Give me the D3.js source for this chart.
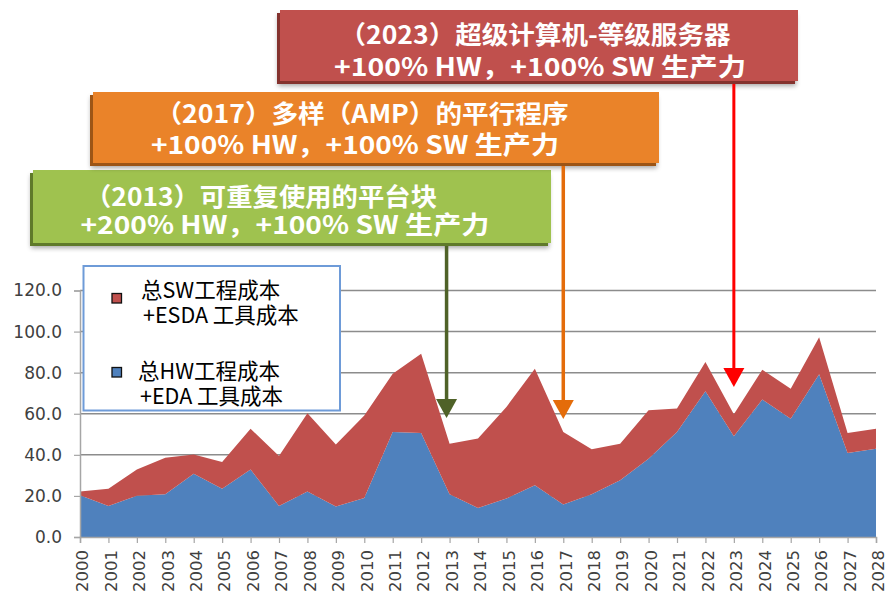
<!DOCTYPE html>
<html>
<head>
<meta charset="utf-8">
<script src="https://cdn.jsdelivr.net/npm/d3@7"></script>
<style>
  body { margin: 0; background: #fff; }
</style>
</head>
<body>
<script>
"use strict";

var years = [2000, 2001, 2002, 2003, 2004, 2005, 2006, 2007, 2008, 2009,
             2010, 2011, 2012, 2013, 2014, 2015, 2016, 2017, 2018, 2019,
             2020, 2021, 2022, 2023, 2024, 2025, 2026, 2027, 2028];

// total HW engineering + EDA tool cost
var hwCost = [20.3, 15.1, 20.1, 20.8, 30.8, 23.5, 32.8, 15.1, 22.2, 14.8,
              19.0, 51.1, 50.6, 20.8, 14.1, 18.7, 25.2, 15.8, 20.8, 27.6,
              38.1, 51.1, 71.0, 49.1, 66.9, 57.6, 79.2, 40.9, 43.0];

// total SW engineering + ESDA tool cost (stacked on top of HW)
var swCost = [1.9, 8.4, 12.7, 17.8, 9.4, 13.0, 19.9, 24.3, 38.1, 30.2,
              40.2, 28.4, 38.6, 24.6, 33.8, 44.6, 56.7, 35.3, 21.9, 17.8,
              23.6, 11.4, 14.2, 10.6, 14.5, 14.6, 18.1, 9.7, 9.7];

var yTicks = [0, 20, 40, 60, 80, 100, 120];

var seriesKeys = ["hw", "sw"];
var seriesColors = { hw: "#4f81bd", sw: "#c0504d" };
var legendLabels = [
  ["总SW工程成本", "+ESDA 工具成本"],
  ["总HW工程成本", "+EDA 工具成本"]
];
var legendKeys = ["sw", "hw"];

var calloutYears = [2013, 2017, 2023];
var calloutLines = [
  ["（2013）可重复使用的平台块", "+200% HW，+100% SW 生产力"],
  ["（2017）多样（AMP）的平行程序", "+100% HW，+100% SW 生产力"],
  ["（2023）超级计算机-等级服务器", "+100% HW，+100% SW 生产力"]
];
var calloutColors = ["#9fc24f", "#ea8329", "#c0504d"];
var calloutDark = ["#5f7a2c", "#9c5418", "#84302e"];
var arrowColors = ["#4f6228", "#e46c0a", "#ff0000"];

var width = 885, height = 592;
var plot = { left: 80, right: 876, top: 290.5, bottom: 537 };

// box layout: x, y, w, h, line centres (x) and line y's
var boxLayout = [
  { x: 33, y: 170, w: 518, h: 73, lx: [261, 285], ly: [195, 222.5], lw: [352, 409], tip: 418 },
  { x: 93, y: 92, w: 566, h: 71, lx: [362, 355], ly: [112, 142.5], lw: [413, 408], tip: 419 },
  { x: 280, y: 10, w: 518, h: 71, lx: [535, 540], ly: [32.5, 64.5], lw: [391, 412], tip: 387 }
];

var table = years.map(function (yr, i) {
  return { year: yr, hw: hwCost[i], sw: swCost[i] };
});

var x = d3.scaleLinear().domain([2000, 2028]).range([plot.left, plot.right]);
var y = d3.scaleLinear().domain([0, 120]).range([plot.bottom, plot.top]);

var svg = d3.select("body")
  .append("svg")
  .attr("width", width)
  .attr("height", height)
  .style("display", "block");

var defs = svg.append("defs");
var filt = defs.append("filter").attr("id", "boxShadow")
  .attr("x", "-5%").attr("y", "-15%").attr("width", "112%").attr("height", "135%");
filt.append("feGaussianBlur").attr("in", "SourceAlpha").attr("stdDeviation", 2.5).attr("result", "b");
filt.append("feOffset").attr("in", "b").attr("dx", 1).attr("dy", 2).attr("result", "o");
filt.append("feComponentTransfer").attr("in", "o").attr("result", "s")
  .append("feFuncA").attr("type", "linear").attr("slope", 0.35);
var fm = filt.append("feMerge");
fm.append("feMergeNode").attr("in", "s");
fm.append("feMergeNode").attr("in", "SourceGraphic");

// gridlines
svg.append("g")
  .attr("class", "grid")
  .selectAll("line")
  .data(yTicks.filter(function (d) { return d > 0; }))
  .enter()
  .append("line")
  .attr("x1", plot.left)
  .attr("x2", plot.right)
  .attr("y1", function (d) { return y(d); })
  .attr("y2", function (d) { return y(d); })
  .attr("stroke", "#8c8c8c")
  .attr("stroke-width", 1.5);

// stacked areas
var stacked = d3.stack().keys(seriesKeys)(table);

var area = d3.area()
  .x(function (d) { return x(d.data.year); })
  .y0(function (d) { return y(d[0]); })
  .y1(function (d) { return y(d[1]); });

svg.append("g")
  .attr("class", "areas")
  .selectAll("path")
  .data(stacked)
  .enter()
  .append("path")
  .attr("d", area)
  .attr("fill", function (d) { return seriesColors[d.key]; });

// axes
var yAxis = svg.append("g")
  .attr("transform", "translate(" + plot.left + ",0)")
  .call(d3.axisLeft(y).tickValues(yTicks).tickFormat(d3.format(".1f")).tickSize(6).tickPadding(12));

var xAxis = svg.append("g")
  .attr("transform", "translate(0," + plot.bottom + ")")
  .call(d3.axisBottom(x).tickValues(years).tickFormat(d3.format("d")).tickSize(6));

[yAxis, xAxis].forEach(function (ax) {
  ax.select(".domain").attr("stroke", "#a6a6a6").attr("stroke-width", 1.5);
  ax.selectAll(".tick line").attr("stroke", "#a6a6a6").attr("stroke-width", 1.2);
  ax.selectAll("text")
    .attr("fill", "#404040")
    .style("font-family", "'DejaVu Sans', sans-serif");
});

yAxis.selectAll("text").style("font-size", "17px");

xAxis.selectAll("text")
  .style("font-size", "16.5px")
  .attr("text-anchor", "end")
  .attr("transform", "translate(2,0) rotate(-90)")
  .attr("x", -13)
  .attr("y", 0)
  .attr("dy", "0.35em");

// legend
var legend = svg.append("g").attr("class", "legend");
legend.append("rect")
  .attr("x", 83.5).attr("y", 266).attr("width", 256.5).attr("height", 144.5)
  .attr("fill", "#fff")
  .attr("stroke", "#6e9bd8")
  .attr("stroke-width", 2);

var legendRows = [
  { sy: 293.5, tx: [141, 143], ty: [288, 313] },
  { sy: 367.5, tx: [138, 140], ty: [369, 394] }
];

legendKeys.forEach(function (k, i) {
  var row = legendRows[i];
  legend.append("rect")
    .attr("x", 112).attr("y", row.sy).attr("width", 9.5).attr("height", 9.5)
    .attr("fill", seriesColors[k])
    .attr("stroke", "#111")
    .attr("stroke-width", 1.3);
  legendLabels[i].forEach(function (t, j) {
    legend.append("text")
      .attr("x", row.tx[j])
      .attr("y", row.ty[j])
      .attr("dominant-baseline", "central")
      .style("font-family", "'Noto Sans CJK SC', sans-serif")
      .style("font-size", "21.5px")
      .attr("fill", "#000")
      .text(t);
  });
});

// callouts
var callouts = svg.append("g").attr("class", "callouts");

calloutYears.forEach(function (yr, i) {
  var b = boxLayout[i];
  var g = callouts.append("g");

  g.append("rect")
    .attr("x", b.x - 3).attr("y", b.y + 3).attr("width", b.w).attr("height", b.h)
    .attr("fill", calloutDark[i])
    .attr("filter", "url(#boxShadow)");
  g.append("rect")
    .attr("x", b.x).attr("y", b.y).attr("width", b.w).attr("height", b.h)
    .attr("fill", calloutColors[i]);

  calloutLines[i].forEach(function (t, j) {
    g.append("text")
      .attr("x", b.lx[j])
      .attr("y", b.ly[j])
      .attr("text-anchor", "middle")
      .attr("dominant-baseline", "central")
      .attr("textLength", b.lw[j])
      .attr("lengthAdjust", "spacingAndGlyphs")
      .style("font-family", "'Noto Sans CJK SC', sans-serif")
      .style("font-weight", "700")
      .style("font-size", "25px")
      .attr("fill", "#fff")
      .text(t);
  });

  // arrow
  var ax = x(yr) - (i === 0 ? 3 : 0);
  var headH = 19, headW = 21;
  g.append("line")
    .attr("x1", ax).attr("x2", ax)
    .attr("y1", b.y + b.h + 3)
    .attr("y2", b.tip - headH + 1)
    .attr("stroke", arrowColors[i])
    .attr("stroke-width", i === 2 ? 3 : 3.5);
  g.append("path")
    .attr("d", "M" + (ax - headW / 2) + "," + (b.tip - headH) +
               "L" + (ax + headW / 2) + "," + (b.tip - headH) +
               "L" + ax + "," + b.tip + "Z")
    .attr("fill", arrowColors[i]);
});
</script>
</body>
</html>
